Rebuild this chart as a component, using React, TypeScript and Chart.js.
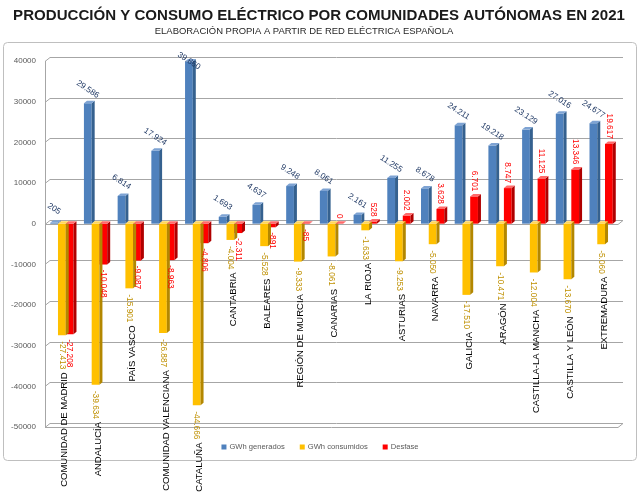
import React, { useEffect, useRef } from 'react';
import { Chart, registerables } from 'chart.js';

Chart.register(...registerables);

const titleText = 'PRODUCCIÓN Y CONSUMO ELÉCTRICO POR COMUNIDADES AUTÓNOMAS EN 2021';
const subtitleText = 'ELABORACIÓN PROPIA A PARTIR DE RED ELÉCTRICA ESPAÑOLA';

const categories = [
  'COMUNIDAD DE MADRID', 'ANDALUCÍA', 'PAÍS VASCO', 'COMUNIDAD VALENCIANA', 'CATALUÑA',
  'CANTABRIA', 'BALEARES', 'REGIÓN DE MURCIA', 'CANARIAS', 'LA RIOJA', 'ASTURIAS',
  'NAVARRA', 'GALICIA', 'ARAGÓN', 'CASTILLA-LA MANCHA', 'CASTILLA Y LEÓN', 'EXTREMADURA',
];
const generados = [205, 29586, 6814, 17924, 39860, 1693, 4637, 9248, 8061, 2161, 11255, 8678, 24211, 19218, 23129, 27016, 24677];
const consumidos = [-27413, -39634, -15901, -26887, -44666, -4004, -5528, -9333, -8061, -1633, -9253, -5050, -17510, -10471, -12004, -13670, -5060];
const desfase = [-27208, -10048, -9087, -8963, -4806, -2311, -891, -85, 0, 528, 2002, 3628, 6701, 8747, 11125, 13346, 19617];
const seriesNames = ['GWh generados', 'GWh consumidos', 'Desfase'];

const yMin = -50000;
const yMax = 40000;
const yStep = 10000;

const FONT = '"Liberation Sans", Arial, sans-serif';
const colors = ['#4F81BD', '#FFC000', '#FF0000'];
const sideColors = ['#35618F', '#B38700', '#B00000'];
const topColors = ['#7EA3D3', '#FFD65C', '#FF6A6A'];

const fmt = (v: number) => {
  const s = Math.abs(v).toString().replace(/\B(?=(\d{3})+(?!\d))/g, '.');
  return (v < 0 ? '-' : '') + s;
};

const decor = {
  id: 'decor',
  beforeDraw(chart: any) {
    const ctx = chart.ctx;
    ctx.save();
    ctx.fillStyle = '#ffffff';
    ctx.fillRect(0, 0, chart.width, chart.height);
    ctx.strokeStyle = '#BFBFBF';
    ctx.lineWidth = 1;
    ctx.beginPath();
    if (ctx.roundRect) ctx.roundRect(3.5, 42.5, 633, 418, 4);
    else ctx.rect(3.5, 42.5, 633, 418);
    ctx.stroke();
    ctx.restore();
  },
  beforeDatasetsDraw(chart: any) {
    const { ctx, chartArea, scales } = chart;
    const { left, right, top, bottom } = chartArea;
    const y = scales.y;
    const dx = 5, dy = 4;
    ctx.save();
    ctx.strokeStyle = '#A6A6A6';
    ctx.lineWidth = 1;
    for (let v = yMin; v <= yMax; v += yStep) {
      const py = Math.round(y.getPixelForValue(v)) + 0.5;
      ctx.beginPath();
      ctx.moveTo(left, py);
      ctx.lineTo(left + dx, py - dy);
      ctx.lineTo(right + dx, py - dy);
      ctx.stroke();
    }
    for (const v of [0, yMin]) {
      const py = Math.round(y.getPixelForValue(v)) + 0.5;
      ctx.beginPath();
      ctx.moveTo(left, py);
      ctx.lineTo(right, py);
      ctx.lineTo(right + dx, py - dy);
      ctx.stroke();
    }
    ctx.beginPath();
    ctx.moveTo(Math.round(left) + 0.5, top);
    ctx.lineTo(Math.round(left) + 0.5, bottom);
    ctx.stroke();
    ctx.restore();
  },
  afterDatasetsDraw(chart: any) {
    const { ctx, chartArea } = chart;
    const d = 3, e = 2.5;
    ctx.save();
    chart.data.datasets.forEach((_ds: any, di: number) => {
      const meta = chart.getDatasetMeta(di);
      meta.data.forEach((bar: any) => {
        const { x, y, base, width } = bar.getProps(['x', 'y', 'base', 'width'], true);
        const l = x - width / 2, r = x + width / 2;
        const t = Math.min(y, base), b = Math.max(y, base);
        ctx.fillStyle = sideColors[di];
        ctx.beginPath();
        ctx.moveTo(r, t);
        ctx.lineTo(r + d, t - e);
        ctx.lineTo(r + d, b - e);
        ctx.lineTo(r, b);
        ctx.closePath();
        ctx.fill();
        ctx.fillStyle = topColors[di];
        ctx.beginPath();
        ctx.moveTo(l, t);
        ctx.lineTo(l + d, t - e);
        ctx.lineTo(r + d, t - e);
        ctx.lineTo(r, t);
        ctx.closePath();
        ctx.fill();
      });
    });

    const labelFont = `8.3px ${FONT}`;
    const m0 = chart.getDatasetMeta(0).data;
    const m1 = chart.getDatasetMeta(1).data;
    const m2 = chart.getDatasetMeta(2).data;
    ctx.font = labelFont;
    ctx.textBaseline = 'middle';
    // generated labels
    generados.forEach((v, i) => {
      const bar = m0[i];
      const cy = Math.max(bar.y - 14, chartArea.top);
      ctx.save();
      ctx.translate(bar.x, cy);
      ctx.rotate((33 * Math.PI) / 180);
      ctx.fillStyle = '#1F3864';
      ctx.textAlign = 'center';
      ctx.fillText(fmt(v), 0, 0);
      ctx.restore();
    });
    // consumed labels
    consumidos.forEach((v, i) => {
      const bar = m1[i];
      ctx.save();
      ctx.translate(bar.x, bar.y + 6);
      ctx.rotate(Math.PI / 2);
      ctx.fillStyle = '#BF9000';
      ctx.textAlign = 'left';
      ctx.fillText(fmt(v), 0, 0);
      ctx.restore();
    });
    // desfase labels
    desfase.forEach((v, i) => {
      const bar = m2[i];
      ctx.save();
      if (v >= 0) {
        ctx.translate(bar.x, bar.y - 5);
        ctx.rotate(Math.PI / 2);
        ctx.textAlign = 'right';
      } else {
        ctx.translate(bar.x, bar.y + 5);
        ctx.rotate(Math.PI / 2);
        ctx.textAlign = 'left';
      }
      ctx.fillStyle = '#FF0000';
      ctx.fillText(fmt(v), 0, 0);
      ctx.restore();
    });
    // category labels below consumed labels
    const xs = chart.scales.x;
    categories.forEach((c, i) => {
      ctx.font = labelFont;
      const w = ctx.measureText(fmt(consumidos[i])).width;
      const topY = m1[i].y + 6 + w + 3;
      ctx.save();
      ctx.font = `9.5px ${FONT}`;
      ctx.translate(xs.getPixelForValue(i) + 3, topY);
      ctx.rotate(-Math.PI / 2);
      ctx.textAlign = 'right';
      ctx.textBaseline = 'middle';
      ctx.fillStyle = '#000000';
      ctx.fillText(c, 0, 0);
      ctx.restore();
    });
    ctx.restore();
  },
  afterDraw(chart: any) {
    const ctx = chart.ctx;
    ctx.save();
    // title
    ctx.textBaseline = 'alphabetic';
    ctx.textAlign = 'center';
    ctx.fillStyle = '#1A1A1A';
    ctx.font = `bold 15.5px ${FONT}`;
    let w = ctx.measureText(titleText).width;
    const ts = (15.5 * 612) / w;
    ctx.font = `bold ${ts.toFixed(2)}px ${FONT}`;
    ctx.fillText(titleText, 319, 19.5);
    // subtitle
    ctx.fillStyle = '#262626';
    ctx.font = `9.4px ${FONT}`;
    w = ctx.measureText(subtitleText).width;
    const ss = (9.4 * 298) / w;
    ctx.font = `${ss.toFixed(2)}px ${FONT}`;
    ctx.fillText(subtitleText, 304, 33.5);
    // legend
    ctx.font = `7.6px ${FONT}`;
    ctx.textAlign = 'left';
    ctx.textBaseline = 'middle';
    const marker = 5, gap = 3, spacing = 15;
    const widths = seriesNames.map((n) => marker + gap + ctx.measureText(n).width);
    const total = widths.reduce((a, b) => a + b, 0) + spacing * (seriesNames.length - 1);
    let lx = 320 - total / 2;
    const ly = 447;
    seriesNames.forEach((n, i) => {
      ctx.fillStyle = colors[i];
      ctx.fillRect(lx, ly - marker / 2, marker, marker);
      ctx.fillStyle = '#595959';
      ctx.fillText(n, lx + marker + gap, ly);
      lx += widths[i] + spacing;
    });
    ctx.restore();
  },
};

export default function App() {
  const ref = useRef<HTMLCanvasElement | null>(null);
  useEffect(() => {
    if (!ref.current) return;
    const chart = new Chart(ref.current, {
      type: 'bar',
      data: {
        labels: categories,
        datasets: [
          { label: seriesNames[0], data: generados, backgroundColor: colors[0], borderWidth: 0 },
          { label: seriesNames[1], data: consumidos, backgroundColor: colors[1], borderWidth: 0 },
          { label: seriesNames[2], data: desfase, backgroundColor: colors[2], borderWidth: 0 },
        ],
      },
      options: {
        responsive: false,
        animation: false,
        devicePixelRatio: 1,
        layout: { padding: { top: 61, bottom: 73, left: 0, right: 21 } },
        datasets: { bar: { categoryPercentage: 0.69, barPercentage: 1.0 } },
        plugins: {
          legend: { display: false },
          title: { display: false },
          tooltip: { enabled: false },
        },
        scales: {
          x: { display: false },
          y: {
            min: yMin,
            max: yMax,
            afterFit: (s: any) => { s.width = 45; },
            grid: { display: false, drawTicks: false },
            border: { display: false },
            ticks: {
              stepSize: yStep,
              padding: 9,
              color: '#595959',
              font: { family: FONT, size: 8 },
              callback: (v: any) => String(v),
            },
          },
        },
      },
      plugins: [decor],
    } as any);
    return () => chart.destroy();
  }, []);
  return (
    <div style={{ position: 'absolute', left: 0, top: 0, width: 639, height: 500, background: '#fff' }}>
      <canvas ref={ref} width={639} height={500} style={{ display: 'block', width: 639, height: 500 }} />
    </div>
  );
}
